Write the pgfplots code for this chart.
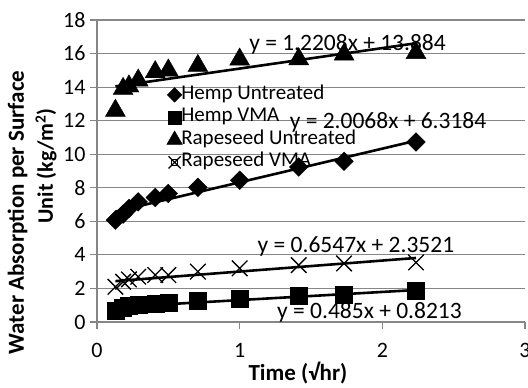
\documentclass[border=0pt]{standalone}
\usepackage{fontspec}
\setmainfont{Carlito}
\usepackage{pgfplots}
\usepackage{pgfplotstable}
\pgfplotsset{compat=1.18}

\definecolor{gridgray}{RGB}{134,134,134}

% Water absorption per unit surface (kg/m^2) against square root of time (sqrt h)
\pgfplotstableread{
x       hempU  hempV  rapeU  rapeV
0.129   6.07   0.65   12.60  2.10
0.183   6.43   0.85   13.90  2.40
0.224   6.77   0.95   14.05  2.54
0.289   7.16   1.05   14.40  2.70
0.408   7.42   1.12   14.90  2.80
0.500   7.66   1.17   15.00  2.80
0.707   8.02   1.25   15.27  3.00
1.000   8.45   1.41   15.65  3.20
1.414   9.24   1.55   15.67  3.39
1.732   9.58   1.65   15.95  3.49
2.236  10.73   1.86   16.04  3.55
}\absorption

\begin{document}
\begin{tikzpicture}
\begin{axis}[
  scale only axis, width=428bp, height=302bp,
  xmin=0, xmax=3, ymin=0, ymax=18,
  xtick={0,1,2,3}, ytick={0,2,...,18},
  axis x line*=bottom, axis y line*=left,
  axis line style={gridgray, line width=1.2bp, -},
  tick style={gridgray, line width=1.2bp},
  tick align=outside, major tick length=7bp,
  ymajorgrids, grid style={gridgray, line width=1.2bp},
  /pgf/number format/assume math mode=true,
  tick label style={font=\fontsize{22bp}{24bp}\selectfont},
  xticklabel style={yshift=-11bp},
  yticklabel style={xshift=-1bp},
  legend style={draw=none, fill=none, at={(axis cs:0.52,14.19)}, anchor=north west,
    font=\fontsize{21bp}{22bp}\selectfont, row sep=1bp, column sep=2.5bp,
    inner sep=0bp,
    nodes={inner sep=1bp, text height=14bp, text depth=5.5bp}},
  legend cell align=left,
  legend image code/.code={%
    \path[use as bounding box] (-3bp,-3bp) rectangle (3bp,3bp);
    \draw[#1, every mark/.append style={scale=0.78}] plot coordinates {(0bp,0bp)};},
]
\coordinate (o) at (rel axis cs:0,0);

\addplot[only marks, mark=square*, mark options={rotate=45, fill=black}, mark size=6.6bp]
  table[x=x, y=hempU] {\absorption};
\addlegendentry{Hemp Untreated}
\addplot[only marks, mark=square*, mark options={fill=black}, mark size=8.5bp]
  table[x=x, y=hempV] {\absorption};
\addlegendentry{Hemp VMA}
\addplot[only marks, mark=triangle*, mark options={fill=black}, mark size=11.5bp]
  table[x=x, y=rapeU] {\absorption};
\addlegendentry{Rapeseed Untreated}
\addplot[only marks, mark=x, mark options={line width=1.3bp}, mark size=11bp]
  table[x=x, y=rapeV] {\absorption};
\addlegendentry{Rapeseed VMA}

% linear trend lines over the measured range
\addplot[black, line width=2.6bp, forget plot] coordinates {(0.129,6.577) (2.236,10.806)};
\addplot[black, line width=2.6bp, forget plot] coordinates {(0.129,0.884) (2.236,1.906)};
\addplot[black, line width=2.6bp, forget plot] coordinates {(0.129,14.041) (2.236,16.614)};
\addplot[black, line width=2.6bp, forget plot] coordinates {(0.129,2.437) (2.236,3.816)};

\begin{scope}[every node/.style={font=\fontsize{23.5bp}{26bp}\selectfont, anchor=base, inner sep=0pt}]
\node at (axis cs:1.756,16.21) {y = 1.2208x + 13.884};
\node at (axis cs:2.040,11.56) {y = 2.0068x + 6.3184};
\node at (axis cs:1.815,4.17) {y = 0.6547x + 2.3521};
\node at (axis cs:1.910,0.238) {y = 0.485x + 0.8213};
\end{scope}
\end{axis}

% axis titles
\node[font=\bfseries\fontsize{23bp}{26bp}\selectfont, anchor=base, inner sep=0pt]
  at ([shift={(201bp,-58bp)}]o) {Time (√hr)};
\node[font=\bfseries\fontsize{23bp}{26bp}\selectfont, anchor=base, rotate=90, inner sep=0pt]
  at ([shift={(-73bp,109.5bp)}]o) {Water Absorption per Surface};
\node[font=\bfseries\fontsize{22bp}{26bp}\selectfont, anchor=base, rotate=90, inner sep=0pt]
  at ([shift={(-44bp,156bp)}]o) {Unit (kg/m\textsuperscript{2})};

\pgfresetboundingbox
\path ([shift={(-97bp,-66bp)}]o) rectangle ([shift={(431bp,322bp)}]o);
\end{tikzpicture}
\end{document}
